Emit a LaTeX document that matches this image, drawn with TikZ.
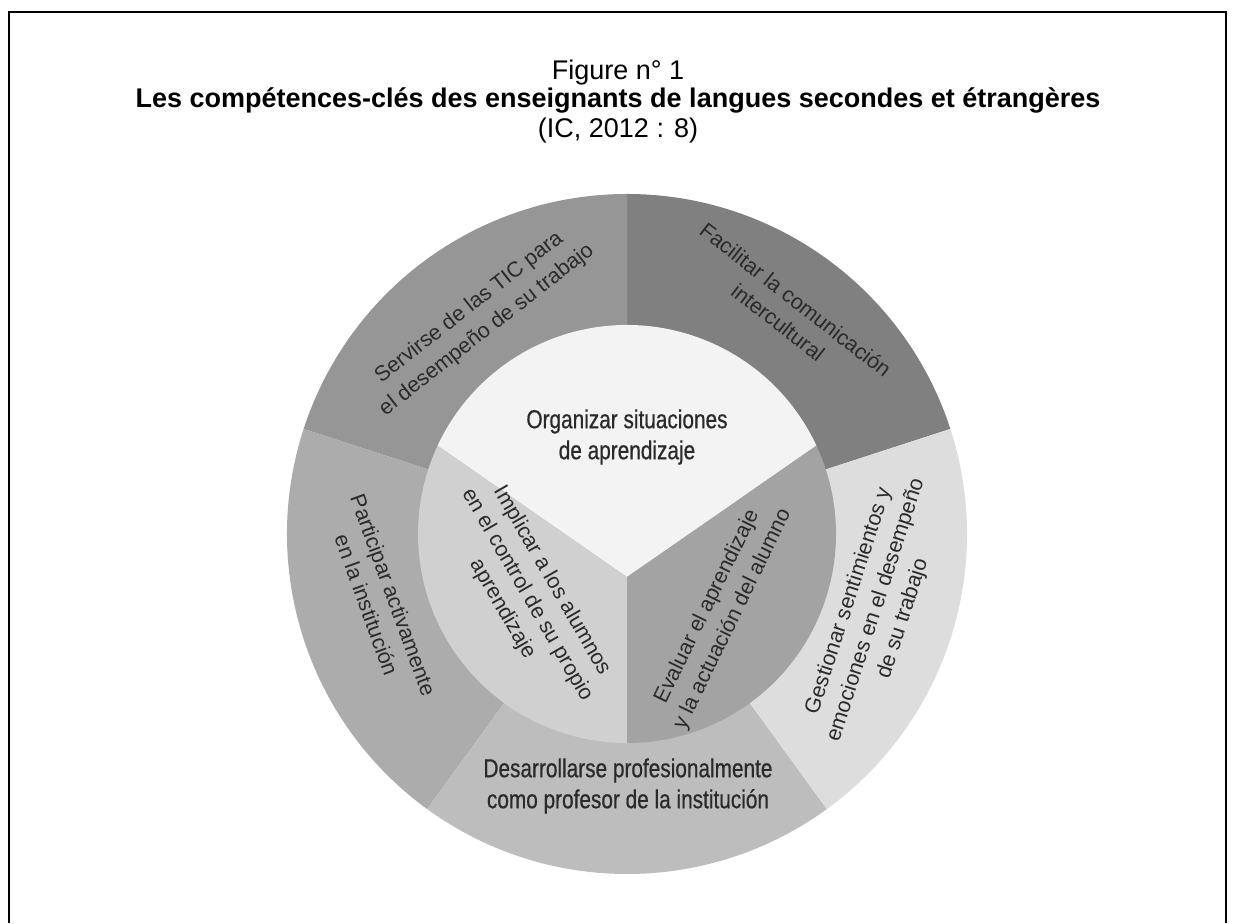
\documentclass[tikz,border=0pt]{standalone}
\usepackage{fontspec}
\setmainfont{Liberation Sans}
\newfontfamily\condfont[FakeStretch=0.8,FakeBold=0.6]{Liberation Sans}
\usetikzlibrary{calc}
\definecolor{cServ}{HTML}{969696}
\definecolor{cFac}{HTML}{808080}
\definecolor{cGes}{HTML}{DDDDDD}
\definecolor{cDes}{HTML}{BDBDBD}
\definecolor{cPart}{HTML}{ACACAC}
\definecolor{cOrg}{HTML}{F3F3F3}
\definecolor{cImp}{HTML}{D0D0D0}
\definecolor{cEva}{HTML}{A3A3A3}
\definecolor{cTxt}{HTML}{2A2A2A}
\tikzset{
  lbl/.style={align=center, text=cTxt, font=\fontsize{21.5}{28.5}\selectfont, inner sep=0pt},
  clbl/.style={align=center, text=cTxt, font=\condfont\fontsize{26}{31}\selectfont, inner sep=0pt},
  ttl/.style={anchor=base, inner sep=0pt, font=\fontsize{27}{29}\selectfont},
  frame/.style={line width=2.5pt, black}
}
\begin{document}
\begin{tikzpicture}[x=1pt,y=1pt]
\useasboundingbox (0,0) rectangle (1236,923);
\fill[white] (0,0) rectangle (1236,923);
% frame
\coordinate (f1) at (9,0);
\coordinate (f2) at (9,911);
\coordinate (f3) at (1226,911);
\coordinate (f4) at (1226,0);
\draw[frame] (f1) -- (f2) -- (f3) -- (f4);
% titles
\node[ttl] (t1) at (618,843) {Figure n° 1};
\node[ttl] (t2) at (618,815) {\bfseries Les compétences-clés des enseignants de langues secondes et étrangères};
\node[ttl] (t3) at (618,785) {(IC, 2012 : 8)};
% wheel
\coordinate (C) at (627,389);
\coordinate (J) at (627,346);
\fill[cFac]  (C) -- ++(18:340)  arc[start angle=18, end angle=90, radius=340] -- cycle;
\fill[cServ] (C) -- ++(90:340)  arc[start angle=90, end angle=162, radius=340] -- cycle;
\fill[cPart] (C) -- ++(162:340) arc[start angle=162, end angle=234, radius=340] -- cycle;
\fill[cDes]  (C) -- ++(234:340) arc[start angle=234, end angle=306, radius=340] -- cycle;
\fill[cGes]  (C) -- ++(306:340) arc[start angle=306, end angle=378, radius=340] -- cycle;
\fill[cOrg] (J) -- ($(C)+(25:209)$) arc[start angle=25, end angle=155, radius=209] -- cycle;
\fill[cImp] (J) -- ($(C)+(155:209)$) arc[start angle=155, end angle=270, radius=209] -- cycle;
\fill[cEva] (J) -- ($(C)+(270:209)$) arc[start angle=270, end angle=385, radius=209] -- cycle;
% labels
\node[lbl, rotate=38]  (serv) at (478,604) {Servirse de las TIC para\\el desempeño de su trabajo};
\node[lbl, rotate=-38] (fac)  at (787,612) {Facilitar la comunicación\\intercultural};
\node[lbl, rotate=72]  (ges)  at (876,313) {Gestionar sentimientos y\\emociones en el desempeño\\de su trabajo};
\node[lbl, rotate=-70] (part) at (380,323) {Participar activamente\\en la institución};
\node[clbl] (des) at (628,137) {Desarrollarse profesionalmente\\como profesor de la institución};
\node[clbl] (org) at (627,486) {Organizar situaciones\\de aprendizaje};
\node[lbl, rotate=-60] (imp) at (527,328) {Implicar a los alumnos\\en el control de su propio\\aprendizaje};
\node[lbl, rotate=64]  (eva) at (720,310) {Evaluar el aprendizaje\\y la actuación del alumno};
\end{tikzpicture}
\end{document}
